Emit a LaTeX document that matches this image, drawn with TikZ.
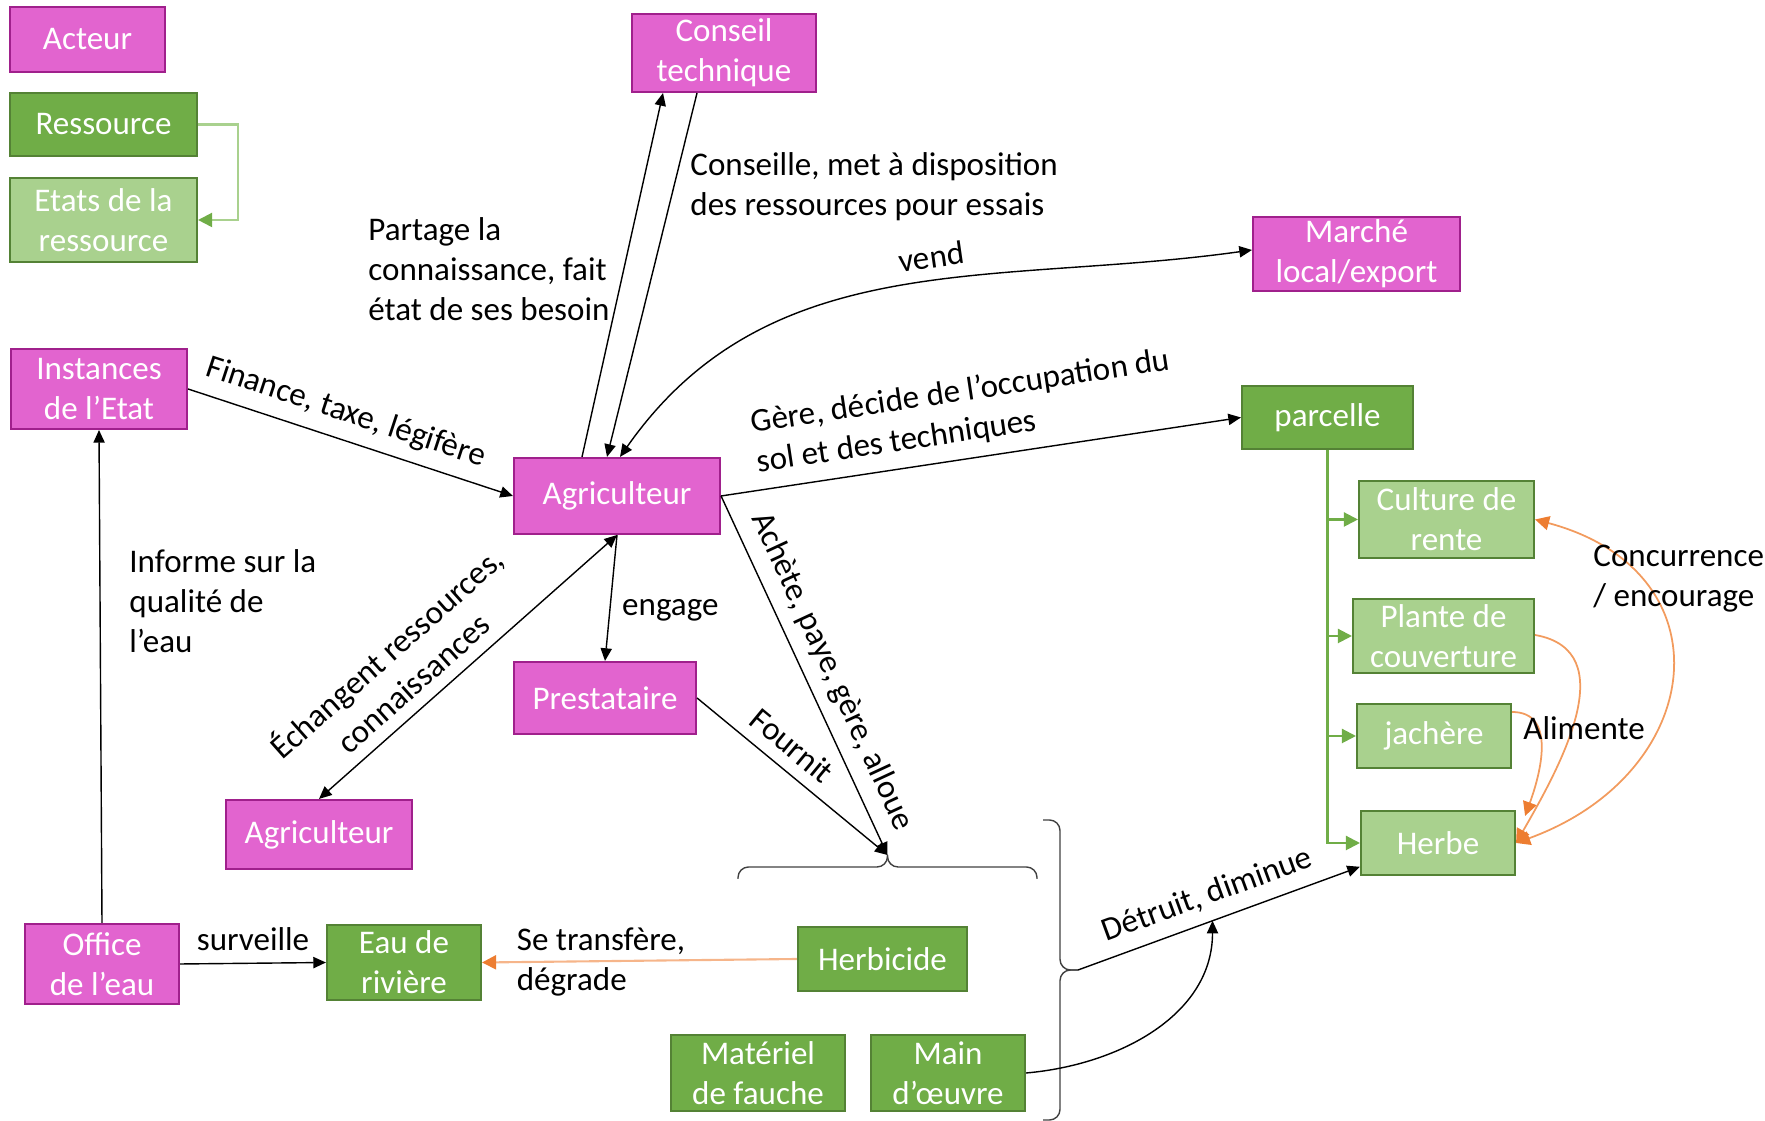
\documentclass[tikz,border=0pt]{standalone}
\usepackage{fontspec}
\setmainfont{Carlito}
\definecolor{actfill}{HTML}{E264CF}
\definecolor{actline}{HTML}{A0208C}
\definecolor{resfill}{HTML}{70AD47}
\definecolor{resline}{HTML}{548235}
\definecolor{etafill}{HTML}{A9D18E}
\definecolor{orline}{HTML}{F29B5E}
\definecolor{orlight}{HTML}{F6B58A}
\definecolor{ortip}{HTML}{ED7D31}
\usetikzlibrary{shapes,arrows.meta,positioning,calc}

\begin{document}
\begin{tikzpicture}[
  font=\fontsize{9.4}{11.4}\selectfont,
  >={Triangle[length=3.6pt,width=3.2pt]},
  box/.style={draw, line width=0.6pt, text=white, align=center, inner sep=0pt},
  acteur/.style={box, fill=actfill, draw=actline},
  ressource/.style={box, fill=resfill, draw=resline},
  etat/.style={box, fill=etafill, draw=resline},
  lien/.style={line width=0.4pt},
  vert/.style={draw=resfill, line width=0.6pt, arrows={-Triangle[length=4pt,width=4pt,color=resfill]}},
  orarr/.style={draw=orline, line width=0.5pt, arrows={-Triangle[length=4pt,width=4pt,color=ortip]}},
  orbi/.style={draw=orline, line width=0.5pt, arrows={Triangle[length=4pt,width=4pt,color=ortip]-Triangle[length=4pt,width=4pt,color=ortip]}},
  accolade/.style={line width=0.4pt, black!75, rounded corners=3pt}
]
\useasboundingbox (0,0) rectangle (17.65,11.21);

% Legend
\node[acteur, minimum width=1.55cm, minimum height=0.65cm] (acteur) at (0.875,10.815) {Acteur};
\node[ressource, minimum width=1.87cm, minimum height=0.63cm] (ressource) at (1.035,9.965) {Ressource};
\node[etat, minimum width=1.87cm, minimum height=0.84cm] (etats) at (1.035,9.01) {Etats de la\\ressource};
\draw[draw=etafill, line width=0.6pt, arrows={-Triangle[length=4pt,width=4pt,color=resfill]}] (ressource.east) -- ++(0.4,0) |- (etats.east);

% Actors
\node[acteur, minimum width=1.84cm, minimum height=0.78cm] (conseil) at (7.24,10.68) {Conseil\\technique};
\node[acteur, minimum width=2.07cm, minimum height=0.74cm] (marche) at (13.565,8.67) {Marché\\local/export};
\node[acteur, minimum width=1.76cm, minimum height=0.80cm] (instances) at (0.99,7.32) {Instances\\de l’Etat};
\node[acteur, minimum width=2.06cm, minimum height=0.76cm] (agri) at (6.17,6.25) {Agriculteur};
\node[acteur, minimum width=1.82cm, minimum height=0.72cm] (presta) at (6.05,4.23) {Prestataire};
\node[acteur, minimum width=1.86cm, minimum height=0.69cm] (agribis) at (3.19,2.865) {Agriculteur};
\node[acteur, minimum width=1.54cm, minimum height=0.80cm] (office) at (1.02,1.57) {Office\\de l’eau};

% Resources
\node[ressource, minimum width=1.71cm, minimum height=0.63cm] (parcelle) at (13.275,7.035) {parcelle};
\node[ressource, minimum width=1.54cm, minimum height=0.75cm] (eau) at (4.04,1.585) {Eau de\\rivière};
\node[ressource, minimum width=1.69cm, minimum height=0.64cm] (herbicide) at (8.825,1.62) {Herbicide};
\node[ressource, minimum width=1.74cm, minimum height=0.76cm] (materiel) at (7.58,0.48) {Matériel\\de fauche};
\node[ressource, minimum width=1.54cm, minimum height=0.76cm] (main) at (9.48,0.48) {Main\\d’œuvre};

% States of the plot
\node[etat, minimum width=1.75cm, minimum height=0.77cm] (culture) at (14.465,6.015) {Culture de\\rente};
\node[etat, minimum width=1.81cm, minimum height=0.74cm] (plante) at (14.435,4.85) {Plante de\\couverture};
\node[etat, minimum width=1.54cm, minimum height=0.64cm] (jachere) at (14.34,3.85) {jachère};
\node[etat, minimum width=1.54cm, minimum height=0.64cm] (herbe) at (14.38,2.78) {Herbe};

% Braces
\coordinate (hbtip) at (8.875,2.66);
\draw[accolade] (7.38,2.42) -- (7.38,2.54) -- (8.875,2.54) -- (hbtip);
\draw[accolade] (10.37,2.42) -- (10.37,2.54) -- (8.875,2.54) -- (hbtip);
\coordinate (vbtip) at (10.78,1.51);
\draw[accolade] (10.43,3.01) -- (10.60,3.01) -- (10.60,1.51) -- (vbtip);
\draw[accolade] (10.43,0.01) -- (10.60,0.01) -- (10.60,1.51) -- (vbtip);

% Links around the farmer
\draw[lien, ->] ([xshift=-3.5mm]agri.north) -- ([xshift=-6.1mm]conseil.south);
\draw[lien, ->] ([xshift=-2.7mm]conseil.south) -- ([xshift=-1mm]agri.north);
\draw[lien, <->] ([xshift=0.3mm]agri.north) to[out=55, in=188] node[pos=0.56, above, sloped] {vend} ([yshift=0.4mm]marche.west);
\draw[lien, ->] (instances.east) -- node[pos=0.46, above, sloped] {Finance, taxe, légifère} (agri.west);
\draw[lien, ->] (agri.east) -- node[pos=0.48, above, sloped, align=left] {Gère, décide de l’occupation du\\sol et des techniques} (parcelle.west);
\draw[lien, <->] (agribis.north) -- node[pos=0.37, above, sloped, align=center] {Échangent ressources,\\connaissances} (agri.south);
\draw[lien, ->] (agri.south) -- node[pos=0.6, right] {engage} (presta.north);
\draw[lien, ->] (agri.east) -- node[pos=0.52, above, sloped] {Achète, paye, gère, alloue} (hbtip);
\draw[lien, ->] (presta.east) -- node[pos=0.42, above, sloped] {Fournit} (hbtip);

% Water
\draw[lien, ->] (office.north) -- (instances.south);
\draw[lien, ->] (office.east) -- node[midway, above] {surveille} (eau.west);
\draw[draw=orlight, line width=0.6pt, arrows={-Triangle[length=4pt,width=4pt,color=ortip]}] (herbicide.west) -- node[pos=0.93, anchor=west, align=left] {Se transfère,\\dégrade} (eau.east);

% Destruction of the grass
\draw[lien, ->] (vbtip) -- coordinate[pos=0.477] (dtr) node[pos=0.49, above, sloped] {Détruit, diminue} ($(herbe.south west)!0.14!(herbe.north west)$);
\draw[lien, ->] (main.east) to[out=5, in=-90] (dtr);

% Plot tree
\draw[vert] (parcelle.south) |- (culture.west);
\draw[vert] (parcelle.south) |- (plante.west);
\draw[vert] (parcelle.south) |- (jachere.west);
\draw[vert] (parcelle.south) |- (herbe.west);

% Interactions between states
\draw[orbi] (culture.east) to[out=-15, in=20, looseness=1.6] (herbe.east);
\draw[orarr] ([yshift=0.1mm]plante.east) to[out=-10, in=60, looseness=1.1] (herbe.east);
\draw[orarr] ([yshift=2.4mm]jachere.east) to[out=0, in=70, looseness=1.1] ([shift={(0.9mm,-0.6mm)}]herbe.north east);

% Free labels
\node[anchor=west, align=left] (tconseille) at (6.78,9.34) {Conseille, met à disposition\\des ressources pour essais};
\node[anchor=west, align=left] (tpartage) at (3.56,8.52) {Partage la\\connaissance, fait\\état de ses besoin};
\node[anchor=west, align=left] (tinforme) at (1.17,5.20) {Informe sur la\\qualité de\\l’eau};
\node[anchor=west] (talimente) at (15.11,3.93) {Alimente};
\node[anchor=west, align=left] (tconcur) at (15.81,5.42) {Concurrence\\/ encourage};
\end{tikzpicture}
\end{document}
